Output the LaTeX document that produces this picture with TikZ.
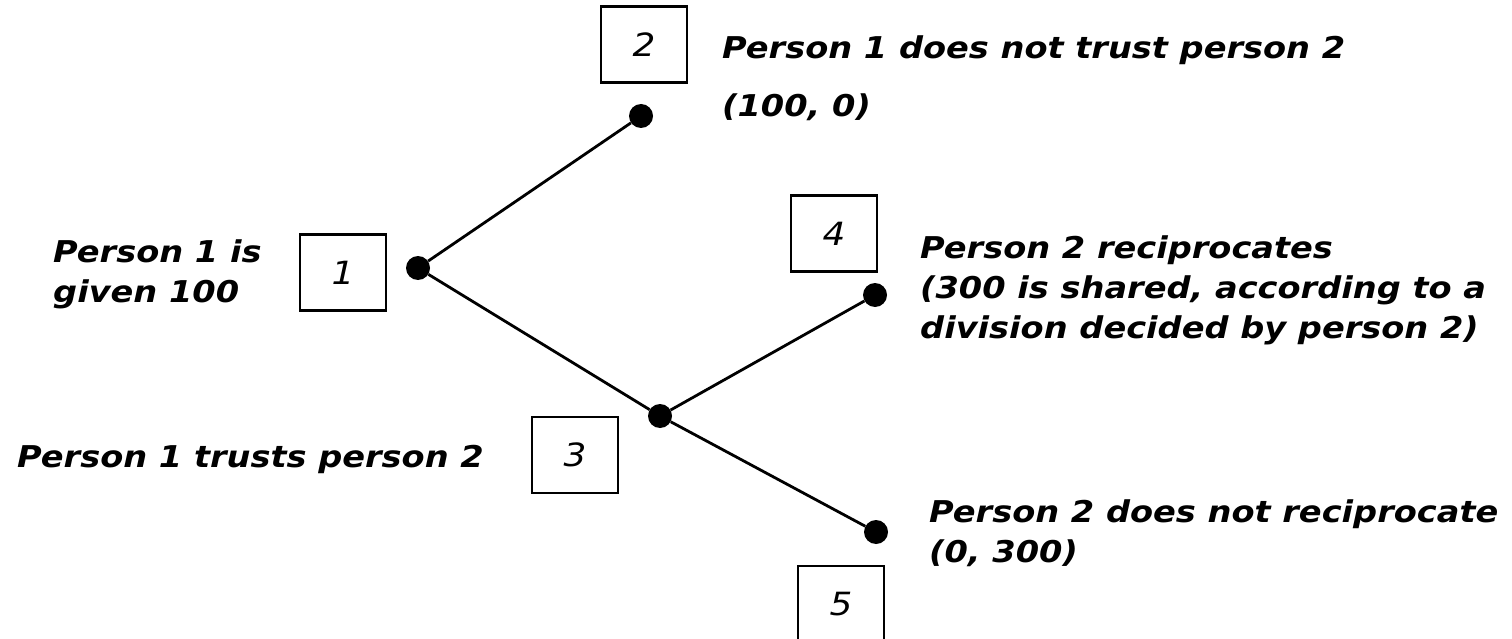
\documentclass[tikz,border=0pt]{standalone}
\usepackage{fontspec}
\setmainfont{DejaVu Sans}[FakeStretch=1.12]
\begin{document}
\begin{tikzpicture}[x=1pt,y=-1pt,
  dotnode/.style={circle,fill=black,inner sep=0pt,minimum size=24pt},
  numbox/.style={draw,line width=2.4pt,minimum width=86pt,minimum height=76pt,inner sep=0pt,
    font=\fontsize{32}{40}\selectfont\mdseries\itshape},
  lbl/.style={inner sep=0pt,anchor=base west,align=left,
    font=\fontsize{30}{40}\selectfont\bfseries\itshape},
  edge/.style={line width=2.8pt}]
\useasboundingbox (0,0) rectangle (1512,639);
% decision points
\node[dotnode] (d1) at (418,268) {};
\node[dotnode] (d2) at (641,116) {};
\node[dotnode] (d3) at (660,416) {};
\node[dotnode] (d4) at (875,295) {};
\node[dotnode] (d5) at (876,532) {};
% branches
\draw[edge] (d1) -- (d2);
\draw[edge] (d1) -- (d3);
\draw[edge] (d3) -- (d4);
\draw[edge] (d3) -- (d5);
% numbered boxes
\node[numbox] (b1) at (343,272.5) {1};
\node[numbox] (b2) at (644,44.5) {2};
\node[numbox] (b3) at (575,455) {3};
\node[numbox] (b4) at (834,233.5) {4};
\node[numbox] (b5) at (841,604) {5};
% labels (anchor = baseline of the last line)
\node[lbl] (t1) at (53,302) {Person 1 is\\given 100};
\node[lbl] (t2) at (722,117) {Person 1 does not trust person 2\\[18pt](100, 0)};
\node[lbl] (t3) at (17,467) {Person 1 trusts person 2};
\node[lbl] (t4) at (920,338) {Person 2 reciprocates\\(300 is shared, according to a\\division decided by person 2)};
\node[lbl] (t5) at (929,562) {Person 2 does not reciprocate\\(0, 300)};
\end{tikzpicture}
\end{document}
